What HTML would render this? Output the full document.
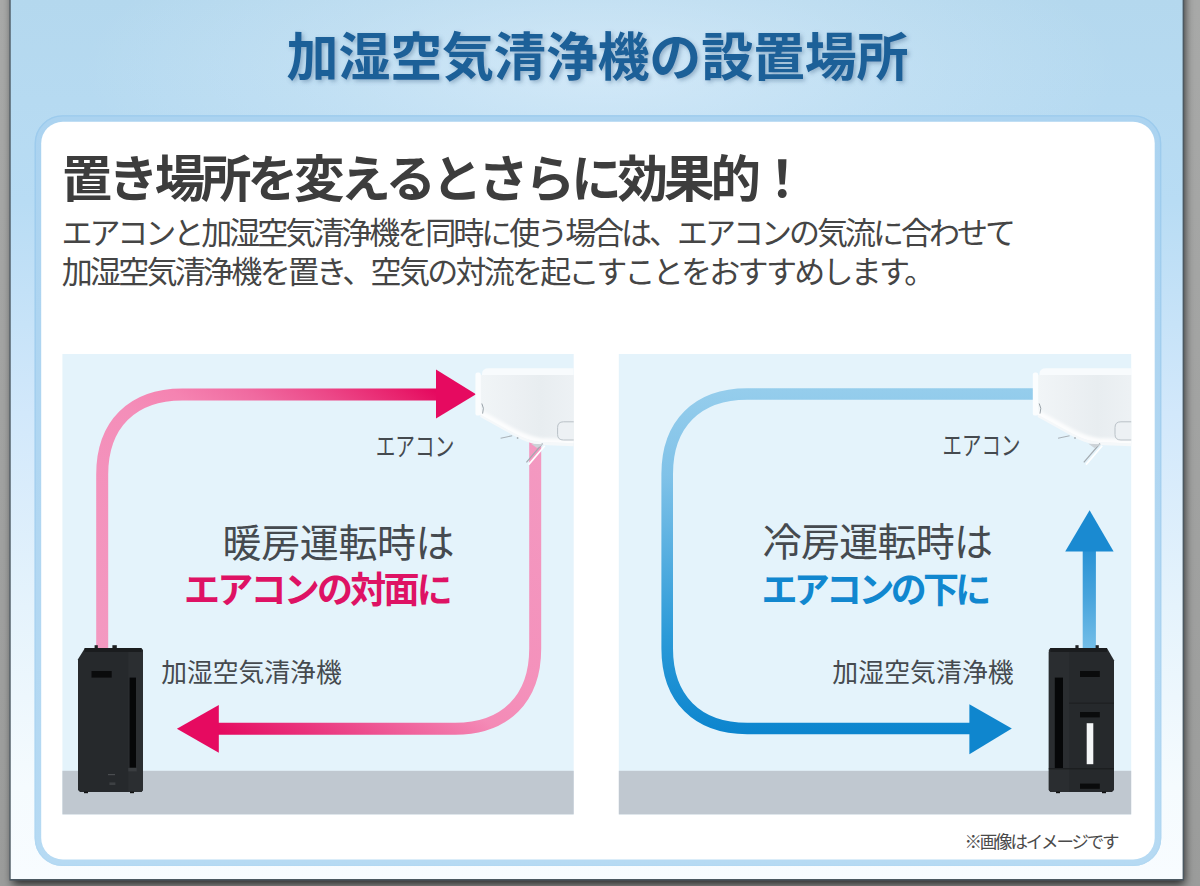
<!DOCTYPE html>
<html lang="ja">
<head>
<meta charset="utf-8">
<title>加湿空気清浄機の設置場所</title>
<style>
html,body{margin:0;padding:0}
body{width:1200px;height:886px;overflow:hidden;position:relative;background:#969696;font-family:"Liberation Sans","Noto Sans CJK JP",sans-serif}
#art{position:absolute;left:0;top:0;display:block}
#art text{font-family:"Liberation Sans","Noto Sans CJK JP",sans-serif}
</style>
</head>
<body>
<svg id="art" width="1200" height="886" viewBox="0 0 1200 886" role="img" aria-label="加湿空気清浄機の設置場所">
<defs>
<linearGradient id="bg" x1="0" y1="0" x2="0" y2="1">
 <stop offset="0" stop-color="#b4d8ee"/><stop offset="0.23" stop-color="#b8dcf4"/>
 <stop offset="0.47" stop-color="#d2e8fb"/><stop offset="0.69" stop-color="#e5f3fc"/>
 <stop offset="0.895" stop-color="#f5fbfe"/><stop offset="1" stop-color="#f8fcff"/>
</linearGradient>
<radialGradient id="hl" cx="0.5" cy="0.5" r="0.5">
 <stop offset="0" stop-color="#eef7ff" stop-opacity="0.50"/><stop offset="0.55" stop-color="#eef7ff" stop-opacity="0.2"/><stop offset="1" stop-color="#eef7ff" stop-opacity="0"/>
</radialGradient>
<linearGradient id="cb" x1="0" y1="0" x2="0" y2="1"><stop offset="0" stop-color="#abd3f0"/><stop offset="1" stop-color="#b6daf3"/></linearGradient>
<linearGradient id="cbs" x1="0" y1="0" x2="0" y2="1"><stop offset="0" stop-color="#9ccbed"/><stop offset="0.5" stop-color="#a6d0ef"/><stop offset="1" stop-color="#b2d8f2"/></linearGradient>
<linearGradient id="bk" x1="0" y1="0" x2="0" y2="1">
 <stop offset="0" stop-color="#a8a9a8"/><stop offset="1" stop-color="#9b9c9b"/>
</linearGradient>
<linearGradient id="shl" x1="0" y1="0" x2="1" y2="0">
 <stop offset="0" stop-color="#000" stop-opacity="0"/><stop offset="0.55" stop-color="#000" stop-opacity="0.06"/><stop offset="1" stop-color="#000" stop-opacity="0.26"/>
</linearGradient>
<linearGradient id="shr" x1="0" y1="0" x2="1" y2="0">
 <stop offset="0" stop-color="#000" stop-opacity="0.30"/><stop offset="0.5" stop-color="#000" stop-opacity="0.10"/><stop offset="1" stop-color="#000" stop-opacity="0.02"/>
</linearGradient>
<linearGradient id="shb" x1="0" y1="0" x2="0" y2="1">
 <stop offset="0" stop-color="#000" stop-opacity="0.66"/><stop offset="0.3" stop-color="#000" stop-opacity="0.58"/><stop offset="1" stop-color="#000" stop-opacity="0.30"/>
</linearGradient>
<linearGradient id="pk1" gradientUnits="userSpaceOnUse" x1="102" y1="648" x2="338" y2="300">
 <stop offset="0" stop-color="#f399c1"/><stop offset="0.5" stop-color="#f48eb9"/><stop offset="0.6" stop-color="#f583b1"/><stop offset="0.7" stop-color="#f06aa0"/><stop offset="0.8" stop-color="#ec4888"/><stop offset="0.9" stop-color="#e8206c"/><stop offset="0.95" stop-color="#e5095f"/>
</linearGradient>
<linearGradient id="pk2" gradientUnits="userSpaceOnUse" x1="535" y1="442" x2="300" y2="787">
 <stop offset="0" stop-color="#f399c1"/><stop offset="0.5" stop-color="#f491bb"/><stop offset="0.62" stop-color="#f48ab6"/><stop offset="0.75" stop-color="#ef5f9a"/><stop offset="0.885" stop-color="#e9307a"/><stop offset="1" stop-color="#e5095f"/>
</linearGradient>
<linearGradient id="bl1" gradientUnits="userSpaceOnUse" x1="0" y1="390" x2="0" y2="732">
 <stop offset="0" stop-color="#95cdec"/><stop offset="0.25" stop-color="#80c2e8"/><stop offset="0.72" stop-color="#2b9ad8"/><stop offset="1" stop-color="#0c85ce"/>
</linearGradient>
<linearGradient id="bl2" gradientUnits="userSpaceOnUse" x1="0" y1="650" x2="0" y2="545">
 <stop offset="0" stop-color="#74bee8"/><stop offset="0.5" stop-color="#48a4dc"/><stop offset="1" stop-color="#2590d4"/>
</linearGradient>
<linearGradient id="acb" x1="0" y1="0" x2="1" y2="0">
 <stop offset="0" stop-color="#f1f5f7"/><stop offset="0.35" stop-color="#ecf0f3"/><stop offset="0.6" stop-color="#e8edf0"/><stop offset="1" stop-color="#eef2f5"/>
</linearGradient>
<filter id="dsh" x="-5%" y="-5%" width="110%" height="110%"><feGaussianBlur stdDeviation="4.7"/></filter>
<filter id="b2" x="-10%" y="-30%" width="120%" height="160%"><feGaussianBlur stdDeviation="1.8"/></filter>
<clipPath id="acclip"><path d="M480.3,375 H580 V443.6 L541.3,442.1 C530,441 521,437 511,431.5 L480.3,414.5 Z"/></clipPath>
<filter id="ts" x="-5%" y="-20%" width="110%" height="150%">
 <feGaussianBlur in="SourceAlpha" stdDeviation="2.2"/><feOffset dx="2.2" dy="2.6"/>
 <feComponentTransfer><feFuncA type="linear" slope="0.38"/></feComponentTransfer>
 <feFlood flood-color="#3a5f85" result="c"/><feComposite in="c" in2="SourceAlpha" operator="in"/>
</filter>
<filter id="ts2" x="-5%" y="-20%" width="110%" height="150%">
 <feGaussianBlur in="SourceAlpha" stdDeviation="2.0" result="b"/><feOffset in="b" dx="2.0" dy="2.4" result="o"/>
 <feFlood flood-color="#3f6489" flood-opacity="0.42" result="c"/><feComposite in="c" in2="o" operator="in" result="s"/>
 <feMerge><feMergeNode in="s"/><feMergeNode in="SourceGraphic"/></feMerge>
</filter>
<clipPath id="cpl"><rect x="62.4" y="354.0" width="511.3" height="460.4"/></clipPath>
<clipPath id="cpr"><rect x="618.8" y="354.0" width="512.4" height="460.4"/></clipPath>
</defs>
<rect x="0" y="0" width="1200" height="886" fill="url(#bk)"/>
<rect x="12.5" y="-30" width="1171.9" height="914.6" fill="#000" fill-opacity="0.75" filter="url(#dsh)"/>
<rect x="9.4" y="0" width="1174.7" height="880.6" fill="#4c5962"/>
<rect x="10.7" y="0" width="1171.9" height="879.0" fill="url(#bg)"/>
<ellipse cx="600" cy="70" rx="520" ry="170" fill="url(#hl)"/>
<rect x="34.6" y="115.2" width="1126.7" height="750.9" rx="28" fill="url(#cb)"/>
<rect x="35.3" y="115.9" width="1125.3" height="749.5" rx="27.4" fill="none" stroke="url(#cbs)" stroke-width="1.4"/>
<rect x="41.2" y="121.8" width="1113.5" height="737.7" rx="21.5" fill="#ffffff"/>
<rect x="62.4" y="354.0" width="511.3" height="460.4" fill="#e4f3fb"/>
<rect x="62.4" y="770.8" width="511.3" height="43.6" fill="#c0c8d0"/>
<rect x="618.8" y="354.0" width="512.4" height="460.4" fill="#e4f3fb"/>
<rect x="618.8" y="770.8" width="512.4" height="43.6" fill="#c0c8d0"/>
<path d="M102.2,652 V474.4 C102.2,424.4 132.2,394.4 182.2,394.4 H438" fill="none" stroke="url(#pk1)" stroke-width="12.0"/>
<polygon points="436,369.6 476,394.2 436,418.6" fill="#e60a60"/>
<path d="M535.2,441 V648.8 C535.2,698.8 505.2,728.8 455.2,728.8 H217" fill="none" stroke="url(#pk2)" stroke-width="12.0"/>
<polygon points="218.8,704.9 176.9,728.7 218.8,752.8" fill="#e60a60"/>
<path d="M1036,394 H747.2 C697.2,394 667.2,424 667.2,474 V648.5 C667.2,698.5 697.2,728.5 747.2,728.5 H971" fill="none" stroke="url(#bl1)" stroke-width="11.6"/>
<polygon points="969.4,704.2 1011.8,728.6 969.4,754.2" fill="#0f86ce"/>
<path d="M1089.3,652 V550" fill="none" stroke="url(#bl2)" stroke-width="13.2"/>
<polygon points="1065.2,551.4 1089.6,510.2 1113.6,551.4" fill="#1a8ad1"/>
<g clip-path="url(#cpl)">
<g id="ac">
 <path d="M482,375.5 V374 Q482,368.3 489,368.3 H580 V375.5 Z" fill="#f8fbfd"/>
 <path d="M480.3,375 H580 V446.5 L541.3,445 C530,444 521,439.5 511,434 L480.3,417 Z" fill="#f5f8fa"/>
 <path d="M480.3,375 H580 V443.6 L541.3,442.1 C530,441 521,437 511,431.5 L480.3,414.5 Z" fill="url(#acb)"/>
 <g clip-path="url(#acclip)"><path d="M478,412.6 L511,430.8 C521,436.3 530,440.3 541.3,441.4 L582,443" fill="none" stroke="#ffffff" stroke-opacity="0.85" stroke-width="7" filter="url(#b2)"/></g>
 <rect x="475.4" y="372.6" width="5.4" height="43" rx="2.2" fill="#fbfdfe"/>
 <path d="M481.8,403.5 Q484.6,408 482.6,413.6" fill="none" stroke="#9aa3aa" stroke-width="1"/>
 <path d="M580,421.8 H563.5 Q557.6,421.8 557.6,427.5 V434.5 Q557.6,440 563.5,440 H580" fill="#edf1f4" stroke="#b9c1c7" stroke-width="1"/>
 <path d="M500.6,438.2 L512.2,435.8" stroke="#a9b1b7" stroke-width="1.1" fill="none"/>
 <circle cx="517.6" cy="438" r="0.9" fill="#a9b1b7"/>
 <path d="M528.6,464.6 L544.8,445.7" stroke="#ffffff" stroke-width="1.7" fill="none"/>
 <path d="M526.4,462.4 L542.6,443.5" stroke="#a3aab0" stroke-width="1.2" fill="none"/>
 <path d="M531,443.8 L543.6,444.2 L537,448 Z" fill="#cdd3d8"/>
</g>
</g>
<g clip-path="url(#cpr)"><use href="#ac" transform="translate(557.4,0)"/></g>

<g id="devL">
 <rect x="94.6" y="645.2" width="3.2" height="3.4" fill="#1e2022"/><rect x="112.4" y="645.2" width="4.4" height="3.4" fill="#1e2022"/>
 <path d="M85,648 H141.2 L143,650 V790 L141.5,792 H80 L78,790 V659.2 Z" fill="#26292c"/>
 <path d="M128.3,652 H143 V790 L141.5,792 H128.3 Z" fill="#2b2e31"/>
 <rect x="84.6" y="648" width="56.8" height="4" fill="#1a1c1e"/>
 <rect x="91.5" y="671" width="20.2" height="6.6" fill="#0a0b0c"/>
 <rect x="129.6" y="677.6" width="6.4" height="90" fill="#060708"/>
 <rect x="128.3" y="768" width="8.4" height="3.4" fill="#3a3d40"/>
 <rect x="108" y="774" width="7" height="1.2" fill="#4a4d50"/><rect x="109.4" y="782.4" width="6" height="2.6" fill="#3d4043"/>
 <rect x="84" y="791.6" width="4" height="1.6" fill="#111"/><rect x="130" y="791.6" width="4" height="1.6" fill="#111"/>
</g>


<g id="devR">
 <rect x="1075.4" y="645.2" width="3.2" height="3.4" fill="#1e2022"/><rect x="1095.6" y="645.2" width="3.2" height="3.4" fill="#1e2022"/>
 <path d="M1050.4,648 H1106.9 L1114,660.3 V790 L1112,792 H1050.5 L1048.8,790 V650 Z" fill="#26292c"/>
 <path d="M1048.8,652 H1069 V792 H1050.5 L1048.8,790 Z" fill="#2a2d30"/>
 <rect x="1050.4" y="648" width="56.6" height="4" fill="#1a1c1e"/>
 <rect x="1054.8" y="677.6" width="8.2" height="90.6" fill="#060708"/>
 <rect x="1048.8" y="768" width="65.2" height="1.4" fill="#1c1e20"/>
 <rect x="1069" y="702.6" width="45" height="1.2" fill="#1e2022"/>
 <rect x="1080" y="671" width="19.8" height="6" fill="#0a0b0c"/>
 <rect x="1080" y="712" width="19.8" height="5.4" fill="#0a0b0c"/>
 <rect x="1080" y="783.6" width="19.8" height="5.2" fill="#0a0b0c"/>
 <rect x="1086.7" y="723.2" width="6.6" height="41" fill="#f4f6f7"/>
 <rect x="1056" y="791.6" width="4" height="1.6" fill="#111"/><rect x="1102" y="791.6" width="4" height="1.6" fill="#111"/>
</g>

<g filter="url(#ts2)"><text x="286.6" y="76.4" font-size="52" font-weight="bold" fill="#1f6098" textLength="622" lengthAdjust="spacing">加湿空気清浄機の設置場所</text></g>
<text x="61.8" y="196.8" font-size="50.5" font-weight="bold" fill="#3d3d3d" textLength="745.6" lengthAdjust="spacing">置き場所を変えるとさらに効果的！</text>
<text x="61.4" y="244.2" font-size="31" fill="#454545" textLength="954.5" lengthAdjust="spacing">エアコンと加湿空気清浄機を同時に使う場合は、エアコンの気流に合わせて</text>
<text x="61.7" y="282.6" font-size="31" fill="#454545" textLength="873.5" lengthAdjust="spacing">加湿空気清浄機を置き、空気の対流を起こすことをおすすめします。</text>
<text x="375.7" y="455.98" font-size="25.8" fill="#454a4f" textLength="78.6" lengthAdjust="spacingAndGlyphs">エアコン</text>
<text x="222.6" y="556.8" font-size="39" fill="#454a4f" textLength="232" lengthAdjust="spacing">暖房運転時は</text>
<text x="184" y="603.3" font-size="36" font-weight="bold" fill="#de1264" textLength="268.8" lengthAdjust="spacing">エアコンの対面に</text>
<text x="161.3" y="681.89" font-size="25.8" fill="#454a4f" textLength="180.4" lengthAdjust="spacing">加湿空気清浄機</text>
<text x="942.6" y="455.47" font-size="25.9" fill="#454a4f" textLength="77.8" lengthAdjust="spacingAndGlyphs">エアコン</text>
<text x="762.7" y="555.8" font-size="39" fill="#454a4f" textLength="230.4" lengthAdjust="spacing">冷房運転時は</text>
<text x="761.5" y="603.3" font-size="36" font-weight="bold" fill="#1187cf" textLength="229.8" lengthAdjust="spacing">エアコンの下に</text>
<text x="832.3" y="681.94" font-size="25.9" fill="#454a4f" textLength="181.4" lengthAdjust="spacing">加湿空気清浄機</text>
<text x="964.4" y="847.79" font-size="17.5" fill="#4a4a4a" textLength="155.2" lengthAdjust="spacing">※画像はイメージです</text>
</svg>
</body>
</html>
